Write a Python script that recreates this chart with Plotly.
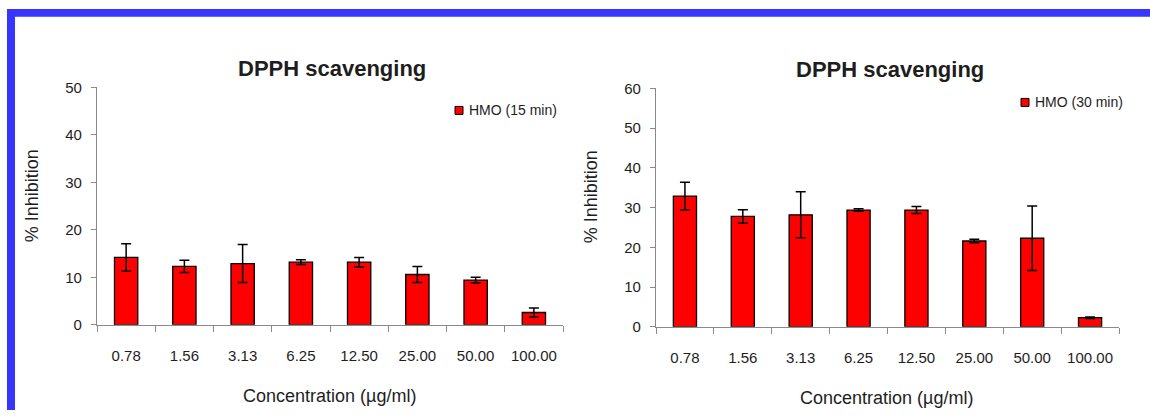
import plotly.graph_objects as go

categories = ["0.78", "1.56", "3.13", "6.25", "12.50", "25.00", "50.00", "100.00"]

inhib_15 = [14.2, 12.3, 12.9, 13.2, 13.2, 10.6, 9.4, 2.6]
err_15 = [2.9, 1.3, 4.0, 0.5, 1.0, 1.7, 0.6, 0.95]

inhib_30 = [32.9, 27.8, 28.2, 29.4, 29.4, 21.6, 22.3, 2.3]
err_30 = [3.5, 1.7, 5.8, 0.3, 0.9, 0.45, 8.1, 0.2]

series_names = ["HMO (15 min)", "HMO (30 min)"]
chart_title = "DPPH scavenging"
x_title = "Concentration (µg/ml)"
y_title = "% Inhibition"

W, H = 1150, 418
FONT = "Liberation Sans, Arial, sans-serif"
TXT = "#1e1e1e"
AXC = "#8a8a8a"
RED = "#ff0000"


def px(x):
    return x / W


def py(y):
    # compensate the vertical offset/scale observed in the captured page
    y = (y - 8.3) / 0.962
    return min(1.0, max(0.0, 1 - y / H))


fig = go.Figure()

bar_style = dict(marker=dict(color=RED, line=dict(color="#000000", width=1.3)), showlegend=False)

fig.add_trace(go.Bar(
    x=categories, y=inhib_15, name=series_names[0],
    error_y=dict(type="data", array=err_15, visible=True, color="#000000", thickness=1.5, width=5),
    xaxis="x", yaxis="y", **bar_style))

fig.add_trace(go.Bar(
    x=categories, y=inhib_30, name=series_names[1],
    error_y=dict(type="data", array=err_30, visible=True, color="#000000", thickness=1.5, width=5),
    xaxis="x2", yaxis="y2", **bar_style))

xcommon = dict(type="category", showline=True, linecolor=AXC, linewidth=1.3,
               ticks="outside", tickson="boundaries", ticklen=6, tickcolor=AXC, tickwidth=1.3,
               showgrid=False, zeroline=False, ticklabelstandoff=17,
               tickfont=dict(family=FONT, size=15, color=TXT))
ycommon = dict(showline=True, linecolor=AXC, linewidth=1.3, ticks="outside", ticklen=5,
               tickcolor=AXC, tickwidth=1.3, showgrid=False, zeroline=False, dtick=10,
               ticklabelstandoff=6, tickfont=dict(family=FONT, size=15, color=TXT))

fig.update_layout(
    width=W, height=H,
    margin=dict(l=0, r=0, t=0, b=0),
    paper_bgcolor="white", plot_bgcolor="white",
    bargap=0.6,
    showlegend=False,
    xaxis=dict(domain=[px(97), px(563)], anchor="y", **xcommon),
    yaxis=dict(domain=[py(325), py(87)], anchor="x", range=[0, 50], **ycommon),
    xaxis2=dict(domain=[px(656), px(1119)], anchor="y2", **xcommon),
    yaxis2=dict(domain=[py(327), py(88)], anchor="x2", range=[0, 60], **ycommon),
)

annots = [
    dict(text=f"<b>{chart_title}</b>", x=px(332), y=py(68), font=dict(size=22)),
    dict(text=f"<b>{chart_title}</b>", x=px(890), y=py(69), font=dict(size=22)),
    dict(text=x_title, x=px(329), y=py(396), font=dict(size=18)),
    dict(text=x_title, x=px(886), y=py(398), font=dict(size=18)),
    dict(text=y_title, x=px(32), y=py(196), font=dict(size=18), textangle=-90),
    dict(text=y_title, x=px(591), y=py(197), font=dict(size=18), textangle=-90),
]
for a in annots:
    a["font"].update(family=FONT, color=TXT)
    fig.add_annotation(xref="paper", yref="paper", showarrow=False,
                       xanchor="center", yanchor="middle", **a)

# legends (key box + text)
legend_pos = [(455, 110), (1021, 102)]
for name, (lx, ly) in zip(series_names, legend_pos):
    fig.add_shape(type="rect", xref="paper", yref="paper",
                  x0=px(lx), x1=px(lx + 8), y0=py(ly + 4), y1=py(ly - 4),
                  fillcolor=RED, line=dict(color="#000000", width=1))
    fig.add_annotation(xref="paper", yref="paper", showarrow=False, x=px(lx + 12), y=py(ly),
                       xanchor="left", yanchor="middle", text=name,
                       font=dict(family=FONT, size=14, color=TXT))

BLUE = "#3535ff"
fig.add_shape(type="rect", xref="paper", yref="paper", x0=px(7), x1=1, y0=py(16), y1=py(8),
              fillcolor=BLUE, line=dict(width=0), layer="above")
fig.add_shape(type="rect", xref="paper", yref="paper", x0=px(7), x1=px(15), y0=0, y1=py(8),
              fillcolor=BLUE, line=dict(width=0), layer="above")

fig.write_html(
    "out.html",
    config={"displayModeBar": False},
    post_script=("document.documentElement.style.margin='0';document.body.style.margin='0';"
                 "document.body.style.overflow='hidden';"
                 "var d=document.getElementById('{plot_id}');"
                 "d.style.position='fixed';d.style.top='0px';d.style.left='0px';"),
)
